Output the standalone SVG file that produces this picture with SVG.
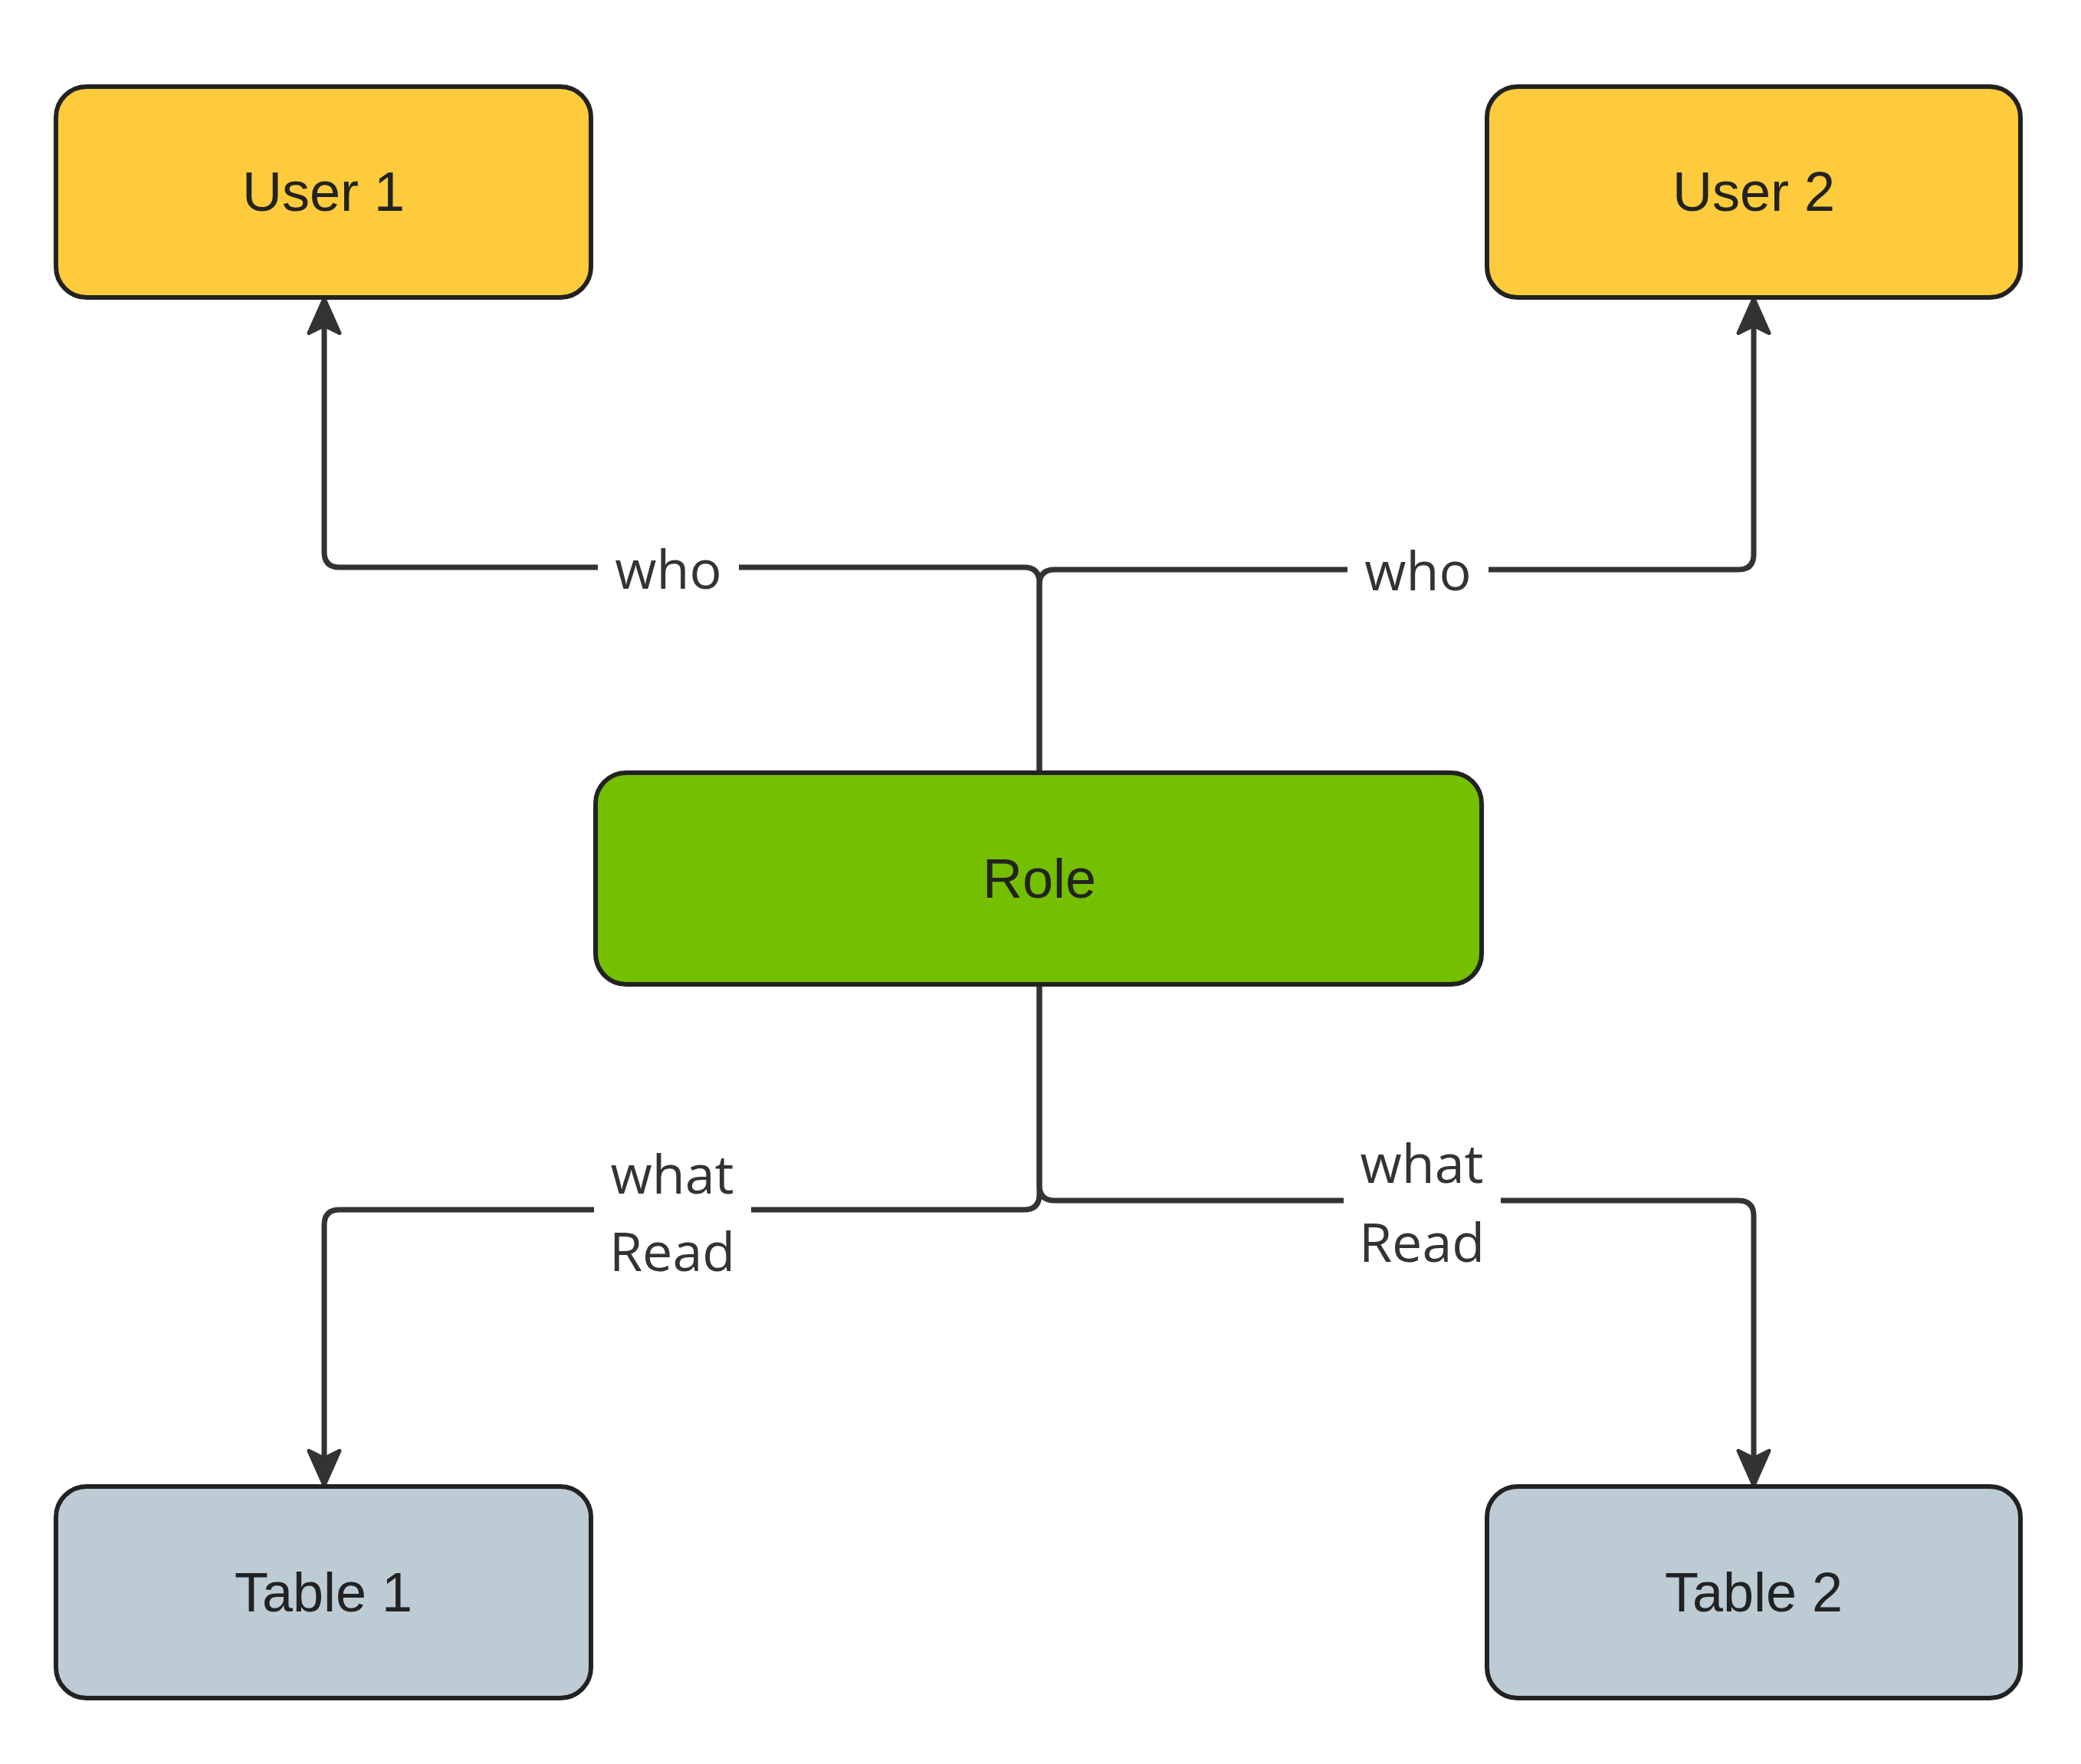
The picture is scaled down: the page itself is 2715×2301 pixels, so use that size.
<svg xmlns="http://www.w3.org/2000/svg" width="2715" height="2301" viewBox="0 0 2715 2301">
<defs>
<style>
.n{stroke:#222;stroke-width:6}
.t{font-family:"Liberation Sans",Arial,sans-serif;font-size:72px;fill:#222;text-anchor:middle;dominant-baseline:central}
.e{fill:none;stroke:#333;stroke-width:7}
.l{font-family:"Open Sans","DejaVu Sans",sans-serif;font-size:70px;fill:#333;text-anchor:middle;dominant-baseline:central}
.bg{fill:#fff}
</style>
<marker id="a" viewBox="0 0 10 10" refX="9" refY="5" markerWidth="50" markerHeight="50" orient="auto" markerUnits="userSpaceOnUse">
<path d="M0.5,1 L9.5,5 L0.5,9 L2.5,5 Z" fill="#333" stroke="#333" stroke-width="1" stroke-linejoin="round"/>
</marker>
</defs>
<rect width="2715" height="2301" fill="#fff"/>
<g id="edges">
<path class="e" d="M1356,1008 V760 Q1356,740 1336,740 H443 Q423,740 423,720 V392" marker-end="url(#a)"/>
<path class="e" d="M1356,1008 V763 Q1356,743 1376,743 H2268 Q2288,743 2288,723 V392" marker-end="url(#a)"/>
<path class="e" d="M1356,1284 V1558 Q1356,1578 1336,1578 H443 Q423,1578 423,1598 V1935" marker-end="url(#a)"/>
<path class="e" d="M1356,1284 V1546 Q1356,1566 1376,1566 H2268 Q2288,1566 2288,1586 V1935" marker-end="url(#a)"/>
<rect class="bg" x="780" y="700" width="184" height="80"/>
<text class="l" x="872" y="741">who</text>
<rect class="bg" x="1758" y="703" width="184" height="80"/>
<text class="l" x="1850" y="743">who</text>
<rect class="bg" x="775" y="1480" width="205" height="200"/>
<text class="l" x="877" y="1530">what</text>
<text class="l" x="877" y="1631">Read</text>
<rect class="bg" x="1753" y="1466" width="205" height="200"/>
<text class="l" x="1855" y="1516">what</text>
<text class="l" x="1855" y="1619">Read</text>
</g>
<g id="user1"><rect class="n" x="73" y="113" width="698" height="275" rx="40" fill="#fdcb3b"/><text class="t" x="422" y="250">User 1</text></g>
<g id="user2"><rect class="n" x="1940" y="113" width="696" height="275" rx="40" fill="#fdcb3b"/><text class="t" x="2288" y="250">User 2</text></g>
<g id="role"><rect class="n" x="777" y="1008" width="1156" height="276" rx="40" fill="#73bf00"/><text class="t" x="1356" y="1146">Role</text></g>
<g id="table1"><rect class="n" x="73" y="1939" width="698" height="276" rx="40" fill="#bdcbd4"/><text class="t" x="422" y="2077">Table 1</text></g>
<g id="table2"><rect class="n" x="1940" y="1939" width="696" height="276" rx="40" fill="#bdcbd4"/><text class="t" x="2288" y="2077">Table 2</text></g>
</svg>
